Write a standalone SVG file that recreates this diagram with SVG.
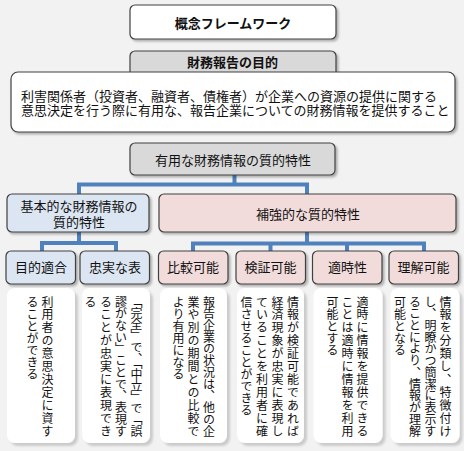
<svg xmlns="http://www.w3.org/2000/svg" width="464" height="451" viewBox="0 0 464 451">
<defs>
<filter id="sh" x="-10%" y="-10%" width="130%" height="150%">
<feDropShadow dx="2" dy="2" stdDeviation="1" flood-color="#000" flood-opacity="0.28"/>
</filter>
<filter id="sh2" x="-10%" y="-10%" width="130%" height="130%">
<feDropShadow dx="3" dy="3" stdDeviation="1" flood-color="#000" flood-opacity="0.16"/>
</filter>
<style>
text{font-family:"Noto Sans CJK JP","Noto Sans",sans-serif;fill:#111;}
.t{font-size:13px;text-anchor:middle;dominant-baseline:central;}
.b{font-weight:bold;}
.l{font-size:13px;dominant-baseline:central;}
.v{font-size:12px;writing-mode:vertical-rl;}
.box{stroke:#404040;stroke-width:1.2;filter:url(#sh);}
.w{fill:#ffffff;}
.g{fill:#d9d9d9;}
.bl{fill:#dce6f2;}
.pk{fill:#f2dcdb;}
.card{fill:#ffffff;filter:url(#sh2);}
.con{fill:none;stroke:#4f81bd;stroke-width:4;}
</style>
</defs>
<rect x="0" y="0" width="464" height="451" fill="#f2f2f2"/>

<g id="connectors">
<path class="con" d="M234.5 175 V184.5 M79 194 V184.5 H307 V194"/>
<path class="con" d="M79 232 V243 M42 251 V243 H116 V251"/>
<path class="con" d="M307 232 V243.5 M193 251 V243.5 H424 V251 M270.5 243.5 V251 M347 243.5 V251"/>
</g>

<g id="n-framework">
<rect class="box w" x="130" y="5" width="206" height="34" rx="5"/>
<text class="t b" x="233" y="22">概念フレームワーク</text>
</g>

<g id="n-purpose-title">
<rect class="box g" x="130" y="51" width="206" height="30" rx="5"/>
<text class="t b" x="232.5" y="61.5">財務報告の目的</text>
</g>

<g id="n-purpose">
<rect class="box w" x="11" y="72" width="444" height="60" rx="7"/>
<text class="l" x="21" y="95.5">利害関係者（投資者、融資者、債権者）が企業への資源の提供に関する</text>
<text class="l" x="21" y="109">意思決定を行う際に有用な、報告企業についての財務情報を提供すること</text>
</g>

<g id="n-qualitative">
<rect class="box g" x="130" y="143" width="205" height="32" rx="5"/>
<text class="t" x="233" y="159">有用な財務情報の質的特性</text>
</g>

<g id="n-fundamental">
<rect class="box bl" x="7" y="194" width="142" height="38" rx="5"/>
<text class="t" x="79" y="205">基本的な財務情報の</text>
<text class="t" x="79" y="221.5">質的特性</text>
</g>

<g id="n-enhancing">
<rect class="box pk" x="159" y="194" width="297" height="38" rx="5"/>
<text class="t" x="308" y="213">補強的な質的特性</text>
</g>

<g id="n-relevance">
<rect class="box bl" x="6" y="251" width="69.5" height="33" rx="5"/>
<text class="t" x="41" y="266.5">目的適合</text>
<rect class="card" x="7" y="288" width="68" height="155" rx="8"/>
<text class="v" x="47.5" y="296" textLength="141" lengthAdjust="spacing">利用者の意思決定に資す</text>
<text class="v" x="32.5" y="296">ることができる</text>
</g>

<g id="n-faithful">
<rect class="box bl" x="80" y="251" width="69.5" height="33" rx="5"/>
<text class="t" x="115" y="266.5">忠実な表</text>
<rect class="card" x="82" y="288" width="68" height="155" rx="8"/>
<text class="v" x="136.5" y="296" textLength="141" lengthAdjust="spacing">「完全」で、「中立」で「誤</text>
<text class="v" x="121" y="296" textLength="141" lengthAdjust="spacing">謬がない」ことで、表現す</text>
<text class="v" x="106" y="296" textLength="141" lengthAdjust="spacing">ることが忠実に表現でき</text>
<text class="v" x="90.5" y="296">る</text>
</g>

<g id="n-comparability">
<rect class="box pk" x="158.5" y="251" width="69.5" height="33" rx="5"/>
<text class="t" x="193" y="266.5">比較可能</text>
<rect class="card" x="160" y="288" width="67" height="155" rx="8"/>
<text class="v" x="209" y="296" textLength="141" lengthAdjust="spacing">報告企業の状況は、他の企</text>
<text class="v" x="193.5" y="296" textLength="141" lengthAdjust="spacing">業や別の期間との比較で</text>
<text class="v" x="178.5" y="296">より有用になる</text>
</g>

<g id="n-verifiability">
<rect class="box pk" x="236" y="251" width="69.5" height="33" rx="5"/>
<text class="t" x="270.5" y="266.5">検証可能</text>
<rect class="card" x="237" y="288" width="67" height="155" rx="8"/>
<text class="v" x="293" y="296" textLength="141" lengthAdjust="spacing">情報が検証可能であれば</text>
<text class="v" x="277.5" y="296" textLength="141" lengthAdjust="spacing">経済現象が忠実に表現し</text>
<text class="v" x="262" y="296" textLength="141" lengthAdjust="spacing">ていることを利用者に確</text>
<text class="v" x="246.5" y="296">信させることができる</text>
</g>

<g id="n-timeliness">
<rect class="box pk" x="312.5" y="251" width="69.5" height="33" rx="5"/>
<text class="t" x="347.5" y="266.5">適時性</text>
<rect class="card" x="313.5" y="288" width="69" height="155" rx="8"/>
<text class="v" x="362.5" y="296" textLength="141" lengthAdjust="spacing">適時に情報を提供できる</text>
<text class="v" x="347.5" y="296" textLength="141" lengthAdjust="spacing">ことは適時に情報を利用</text>
<text class="v" x="332.5" y="296">可能とする</text>
</g>

<g id="n-understandability">
<rect class="box pk" x="389" y="251" width="69.5" height="33" rx="5"/>
<text class="t" x="423.5" y="266.5">理解可能</text>
<rect class="card" x="390.5" y="288" width="69" height="155" rx="8"/>
<text class="v" x="445.5" y="296" textLength="141" lengthAdjust="spacing">情報を分類し、特徴付け</text>
<text class="v" x="430.5" y="296" textLength="141" lengthAdjust="spacing">し、明瞭かつ簡潔に表示す</text>
<text class="v" x="415" y="296" textLength="141" lengthAdjust="spacing">ることにより、情報が理解</text>
<text class="v" x="400" y="296">可能となる</text>
</g>
</svg>
